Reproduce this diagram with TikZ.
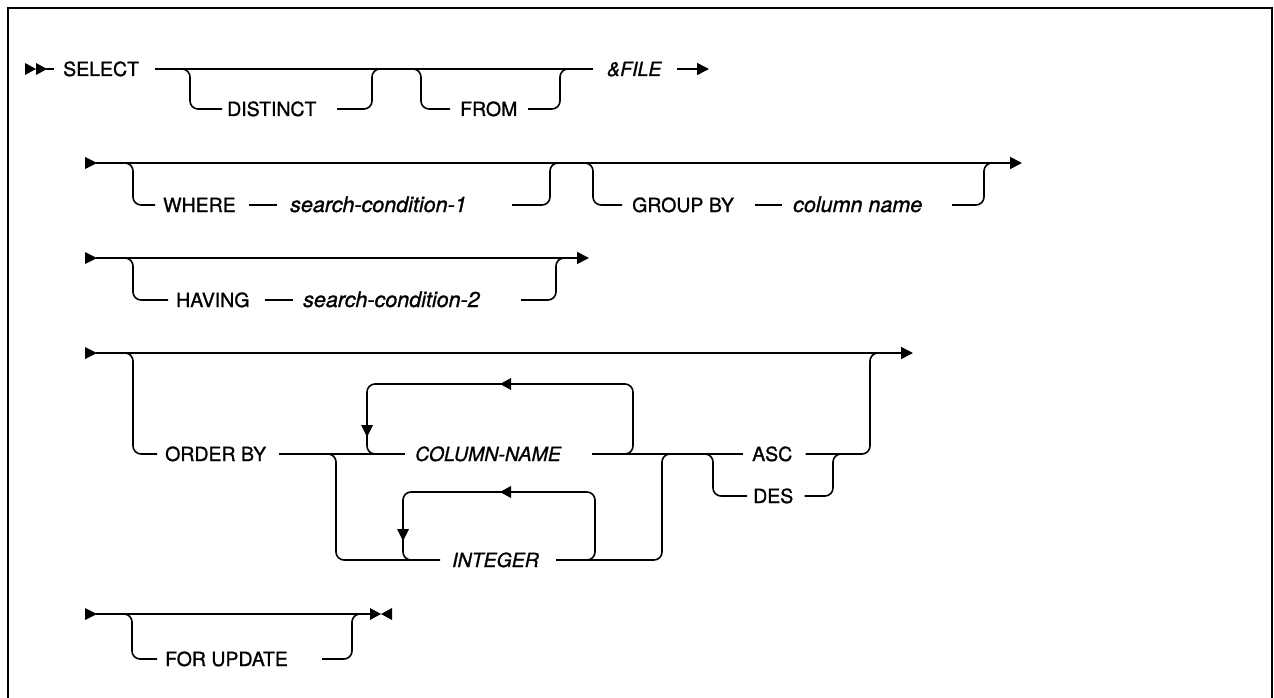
\documentclass[tikz,border=0pt]{standalone}
\usepackage{fontspec}
\setmainfont{TeX Gyre Heros}[FakeBold=1.1]
\usetikzlibrary{arrows.meta}
\begin{document}
\begin{tikzpicture}[x=1pt,y=-1pt,
  rail/.style={line width=1.6pt,rounded corners=8pt},
  kw/.style={inner sep=0pt,text height=14pt,text depth=0pt,anchor=west,font=\fontsize{19.5}{22}\selectfont},
  varcap/.style={kw,font=\fontsize{19.5}{22}\selectfont\itshape},
  var/.style={kw,font=\fontsize{21.5}{24}\selectfont\itshape},
  tip/.style={-{Triangle[length=12pt,width=12pt]}},
  head/.style={fill=black}]
  \useasboundingbox (0,0) rectangle (1274,698);
  % 外框
  \draw[line width=2.5pt] (8,698) -- (8,8) -- (1272,8) -- (1272,698);
  % 第一行：SELECT
  \fill[head] (25,63) -- (36,69) -- (25,75) -- cycle;
  \fill[head] (36,63) -- (47,69) -- (36,75) -- cycle;
  \draw[rail] (46,69) -- (54,69);
  \node[kw] (select) at (63,69) {SELECT};
  \draw[rail] (155,69) -- (593,69);
  % DISTINCT 可选
  \node[kw] (distinct) at (227,109) {DISTINCT};
  \draw[rail] (176,69) -- (190,69) -- (190,109) -- ([xshift=-5pt]distinct.west);
  \draw[rail] (337,109) -- (372,109) -- (372,69) -- (386,69);
  % FROM 可选
  \node[kw] (from) at (460,109) {FROM};
  \draw[rail] (407,69) -- (421,69) -- (421,109) -- ([xshift=-10pt]from.west);
  \draw[rail] (528,109) -- (560,109) -- (560,69) -- (574,69);
  % &FILE 与行尾箭头
  \node[varcap] (file) at (607,69) {\&FILE};
  \draw[rail,tip] (677,69) -- (709,69);
  % 第二行：WHERE / GROUP BY
  \fill[head] (85,157) -- (97,163) -- (85,169) -- cycle;
  \draw[rail,tip] (96,163) -- (1022,163);
  \node[kw] (where) at (163,205) {WHERE};
  \node[var] (cond1) at (290,205) {search-condition-1};
  \draw[rail] (119,163) -- (133,163) -- (133,205) -- ([xshift=-8pt]where.west);
  \draw[rail] ([xshift=13pt]where.east) -- ([xshift=-13pt]cond1.west);
  \draw[rail] (512,205) -- (550,205) -- (550,163) -- (564,163);
  \node[kw] (groupby) at (632,205) {GROUP BY};
  \node[var] (colname) at (793,205) {column name};
  \draw[rail] (579,163) -- (593,163) -- (593,205) -- ([xshift=-10pt]groupby.west);
  \draw[rail] ([xshift=21pt]groupby.east) -- ([xshift=-11pt]colname.west);
  \draw[rail] (952,205) -- (984,205) -- (984,163) -- (998,163);
  % 第三行：HAVING
  \fill[head] (85,252) -- (97,258) -- (85,264) -- cycle;
  \draw[rail,tip] (96,258) -- (589,258);
  \node[kw] (having) at (176,300) {HAVING};
  \node[var] (cond2) at (303,300) {search-condition-2};
  \draw[rail] (119,258) -- (133,258) -- (133,300) -- ([xshift=-8pt]having.west);
  \draw[rail] ([xshift=15pt]having.east) -- ([xshift=-10pt]cond2.west);
  \draw[rail] (521,300) -- (556,300) -- (556,258) -- (570,258);
  % 第四行：ORDER BY
  \fill[head] (85,347) -- (97,353) -- (85,359) -- cycle;
  \draw[rail,tip] (96,353) -- (913,353);
  \node[kw] (orderby) at (165,454) {ORDER BY};
  \node[varcap] (colnm) at (415,454) {COLUMN-NAME};
  \node[varcap] (integer) at (452,560) {INTEGER};
  \node[kw] (asc) at (752,454) {ASC};
  \node[kw] (des) at (753,496) {DES};
  \draw[rail] (119,353) -- (133,353) -- (133,454) -- ([xshift=-8pt]orderby.west);
  \draw[rail] ([xshift=13pt]orderby.east) -- ([xshift=-10pt]colnm.west);
  \draw[rail] ([xshift=31pt]colnm.east) -- ([xshift=-9pt]asc.west);
  % COLUMN-NAME 重复
  \draw[rail] (619,454) -- (633,454) -- (633,384) -- (367,384) -- (367,454) -- (381,454);
  \fill[head] (500,384) -- (511,378) -- (511,390) -- cycle;
  \fill[head] (367,437) -- (361,425) -- (373,425) -- cycle;
  % INTEGER 分支与重复
  \draw[rail] (322,454) -- (336,454) -- (336,560) -- ([xshift=-12pt]integer.west);
  \draw[rail] ([xshift=17pt]integer.east) -- (662,560) -- (662,454) -- (676,454);
  \draw[rail] (581,560) -- (595,560) -- (595,492) -- (403,492) -- (403,560) -- (417,560);
  \fill[head] (500,492) -- (511,486) -- (511,498) -- cycle;
  \fill[head] (403,541) -- (397,529) -- (409,529) -- cycle;
  % ASC / DES
  \draw[rail] ([xshift=13pt]asc.east) -- (870,454) -- (870,353) -- (884,353);
  \draw[rail] (699,454) -- (713,454) -- (713,496) -- ([xshift=-6pt]des.west);
  \draw[rail] ([xshift=11pt]des.east) -- (833,496) -- (833,454) -- (847,454);
  % 第五行：FOR UPDATE
  \fill[head] (85,608) -- (97,614) -- (85,620) -- cycle;
  \draw[rail] (96,614) -- (371,614);
  \fill[head] (370,608) -- (381,614) -- (370,620) -- cycle;
  \fill[head] (392,608) -- (381,614) -- (392,620) -- cycle;
  \node[kw] (forupd) at (165,659) {FOR UPDATE};
  \draw[rail] (118,614) -- (132,614) -- (132,659) -- ([xshift=-8pt]forupd.west);
  \draw[rail] (322,659) -- (352,659) -- (352,614) -- (366,614);
\end{tikzpicture}
\end{document}
